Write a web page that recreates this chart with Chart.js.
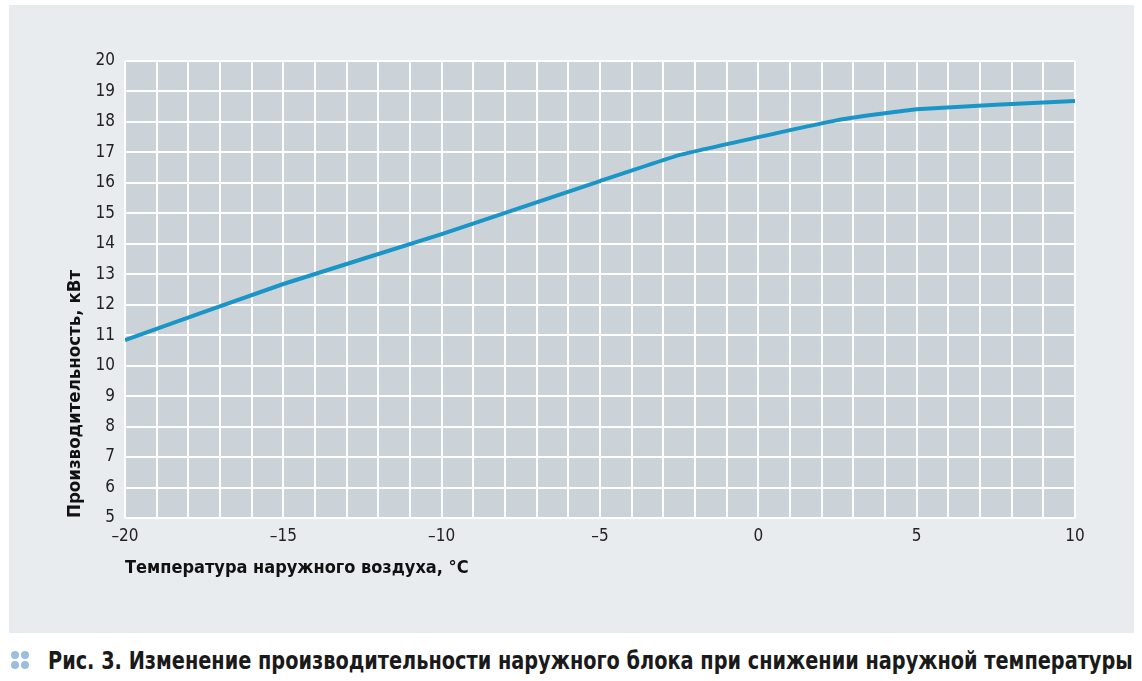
<!DOCTYPE html>
<html lang="ru">
<head>
<meta charset="utf-8">
<title>Рис. 3</title>
<script src="https://cdn.jsdelivr.net/npm/chart.js@4.4.1/dist/chart.umd.min.js"></script>
<style>
    html, body {
        margin: 0;
        padding: 0;
        background: #ffffff;
        width: 1142px;
        height: 681px;
        overflow: hidden;
    }
    #panel {
        position: absolute;
        left: 9px;
        top: 5px;
        width: 1125px;
        height: 628px;
        background: #e9ecef;
    }
    #caption {
        position: absolute;
        left: 48px;
        top: 646px;
        font-family: "DejaVu Sans Condensed", "Liberation Sans Narrow", sans-serif;
        font-size: 25px;
        font-weight: 700;
        color: #1a1a1a;
        white-space: nowrap;
        line-height: 30px;
        transform-origin: left center;
    }
    .dot {
        position: absolute;
        width: 8px;
        height: 8px;
        border-radius: 50%;
        background: #9bbde0;
    }
</style>
</head>
<body>
<div id="panel"><canvas id="chart" width="1125" height="628"></canvas></div>
<div class="dot" style="left:11px;top:651px"></div>
<div class="dot" style="left:21px;top:651px"></div>
<div class="dot" style="left:11px;top:661px"></div>
<div class="dot" style="left:21px;top:661px"></div>
<div id="caption">Рис. 3. Изменение производительности наружного блока при снижении наружной температуры</div>

<script>
// данные
const temperatures = [-20, -15, -10, -5, -2.5, 0, 2.5, 5, 10];
const capacity = [10.84, 12.68, 14.32, 16.06, 16.91, 17.5, 18.06, 18.42, 18.69];
const xLabels = ['–20', '–15', '–10', '–5', '0', '5', '10'];
const yTicks = [5, 6, 7, 8, 9, 10, 11, 12, 13, 14, 15, 16, 17, 18, 19, 20];

const narrowFont = '"DejaVu Sans Condensed", "Liberation Sans Narrow", sans-serif';

// подгоняем подпись по ширине (шрифт в оригинале уже)
const caption = document.getElementById('caption');
caption.style.transform = `scaleX(${1085 / caption.scrollWidth})`;

const plotBackground = {
    id: 'plotBackground',
    beforeDraw(chart) {
        const { ctx, chartArea } = chart;
        ctx.save();
        ctx.fillStyle = '#cbd3d9';
        ctx.fillRect(chartArea.left, chartArea.top, chartArea.right - chartArea.left, chartArea.bottom - chartArea.top);
        ctx.restore();
    },
};

new Chart(document.getElementById('chart').getContext('2d'), {
    type: 'line',
    data: {
        datasets: [
            {
                data: temperatures.map((t, i) => ({ x: t, y: capacity[i] })),
                borderColor: '#1995c7',
                borderWidth: 4,
                pointRadius: 0,
                tension: 0.1,
                fill: false,
            },
        ],
    },
    options: {
        responsive: false,
        animation: false,
        layout: {
            padding: { left: 0, top: 56, right: 59, bottom: 0 },
        },
        plugins: {
            legend: { display: false },
            tooltip: { enabled: false },
        },
        scales: {
            x: {
                type: 'linear',
                min: -20,
                max: 10,
                ticks: {
                    stepSize: 1,
                    autoSkip: false,
                    maxRotation: 0,
                    padding: 8,
                    color: '#222',
                    font: { family: narrowFont, size: 17 },
                    callback(value) {
                        if (value % 5 !== 0) {
                            return '';
                        }
                        return xLabels[(value + 20) / 5];
                    },
                },
                grid: { color: '#ffffff', lineWidth: 2, drawTicks: false },
                border: { display: false },
                title: {
                    display: true,
                    text: 'Температура наружного воздуха, °C',
                    align: 'start',
                    color: '#111',
                    font: { family: narrowFont, size: 18, weight: 'bold' },
                    padding: { top: 0, bottom: 54 },
                },
                afterFit(scale) {
                    scale.height = 115;
                },
            },
            y: {
                min: 5,
                max: 20,
                afterBuildTicks(scale) {
                    scale.ticks = yTicks.map((v) => ({ value: v }));
                },
                ticks: {
                    padding: 10,
                    color: '#222',
                    font: { family: narrowFont, size: 17 },
                },
                grid: { color: '#ffffff', lineWidth: 2, drawTicks: false },
                border: { display: false },
                title: {
                    display: true,
                    text: 'Производительность, кВт',
                    align: 'start',
                    color: '#111',
                    font: { family: narrowFont, size: 18.5, weight: 'bold' },
                    padding: { top: 55, bottom: 0 },
                },
                afterFit(scale) {
                    scale.width = 116;
                },
            },
        },
    },
    plugins: [plotBackground],
});
</script>
</body>
</html>
